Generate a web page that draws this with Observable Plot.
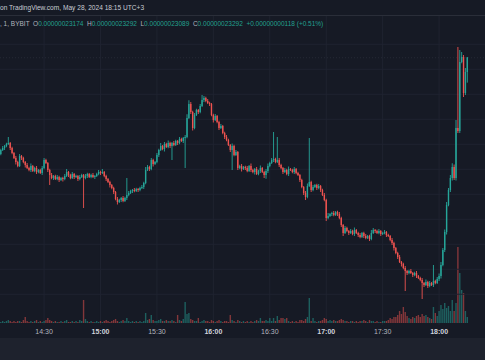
<!DOCTYPE html>
<html><head><meta charset="utf-8">
<script src="https://cdn.jsdelivr.net/npm/d3@7"></script>
<script src="https://cdn.jsdelivr.net/npm/@observablehq/plot@0.6"></script>
<style>
html,body{margin:0;padding:0;background:#161a25;width:485px;height:360px;overflow:hidden;}
#wrap{position:relative;width:485px;height:360px;font-family:"Liberation Sans",Arial,sans-serif;}
#wrap svg{position:absolute;left:0;top:0;}
#band{position:absolute;left:0;top:338px;width:485px;height:22px;background:#1e222d;}
#sep{position:absolute;left:0;top:15px;width:485px;height:1px;background:#2a2e39;}
#header{position:absolute;left:0;top:4px;font-size:6.6px;line-height:8px;color:#c9ccd4;white-space:pre;z-index:5;}
#legend{position:absolute;left:0;top:20px;font-size:6.5px;line-height:8px;color:#b2b5be;white-space:pre;z-index:5;}
#legend .v{color:#22a08f;}
</style></head>
<body><div id="wrap">
<div id="band"></div>
<div id="sep"></div>
<div id="header"></div>
<div id="legend"></div>
</div>
<script>
// ---- data (prices in units of 1e-9) ----
const headerText = "on TradingView.com, May 28, 2024 18:15 UTC+3";
const symbolText = ", 1, BYBIT";
const ohlcLabels = ["O", "H", "L", "C"];
const ohlcValues = ["0.00000023174", "0.00000023292", "0.00000023089", "0.00000023292"];
const changeText = "+0.00000000118 (+0.51%)";
const startTime = "2024-05-28T14:07:00Z";
const firstOpen = 225.18;
const closes = [
225.5,225.66,225.82,225.98,226.06,225.66,225.26,224.86,224.54,224.22,
225.02,224.86,224.54,224.3,224.06,223.9,224.22,223.82,224.06,223.74,
223.9,223.66,224.06,224.7,224.46,223.9,223.5,223.26,223.42,223.18,
223.34,223.1,223.26,223.18,223.42,223.74,223.5,223.26,223.58,223.34,
223.42,223.18,223.34,223.5,223.26,223.42,223.58,223.34,223.5,223.34,
223.42,223.58,223.74,223.66,223.74,223.42,223.18,222.94,222.7,222.46,
222.14,221.58,221.34,221.5,221.66,221.42,221.66,221.9,222.06,222.22,
222.3,222.22,222.38,222.3,222.46,222.54,222.86,223.9,224.14,223.98,
224.7,224.38,224.54,225.1,225.5,225.82,225.58,225.98,225.74,226.06,
225.82,226.06,225.9,226.22,226.06,226.38,226.22,226.46,226.54,228.06,
229.18,228.54,227.26,228.3,228.7,228.54,229.02,229.5,229.66,229.42,
229.26,229.18,228.3,227.9,228.22,227.74,227.26,227.42,226.86,226.54,
226.3,225.9,225.5,225.82,225.1,225.34,224.06,224.22,223.98,224.14,
224.06,223.82,224.22,223.9,223.74,223.98,223.58,223.82,224.06,223.74,
223.5,223.82,224.22,224.46,224.7,224.78,224.54,224.7,224.3,224.06,
223.74,223.9,223.58,223.98,223.9,223.74,223.98,223.66,223.5,223.1,
222.54,222.06,221.74,222.62,222.94,222.3,222.54,222.7,222.46,222.62,
222.3,221.9,221.5,220.06,220.22,220.38,220.46,220.3,220.54,220.38,
220.06,219.5,218.86,219.26,219.02,218.86,219.02,218.78,219.1,218.86,
218.7,218.54,218.86,218.62,218.46,218.62,218.38,218.86,219.1,219.02,
218.86,219.02,218.78,218.86,218.94,218.7,218.62,218.3,218.06,217.66,
217.26,216.94,216.54,216.38,216.06,215.82,215.66,215.82,215.66,215.5,
215.66,215.42,215.26,215.1,214.86,214.7,214.94,214.62,214.86,214.7,
215.02,214.86,215.18,215.42,216.3,217.5,218.94,221.1,222.3,223.26,
224.14,223.26,227.26,227.02,232.54,232.94,230.06,231.74,232.92
];
const wickUp = [
0.1,0.16,0.08,0.1,0.48,0.08,0.1,0.08,0.16,0.1,
0.16,0.08,0.1,0.08,0.16,0.1,0.2,0.08,0.1,0.16,
0.08,0.1,0.16,0.16,0.1,0.08,0.1,0.16,0.08,0.1,
0.16,0.1,0.08,0.1,0.16,0.24,0.08,0.1,0.16,0.08,
0.1,0.08,0.16,0.1,0.08,0.16,0.1,0.08,0.1,0.16,
0.08,0.1,0.16,0.1,0.24,0.08,0.1,0.08,0.1,0.08,
0.1,0.08,0.16,0.1,0.08,0.16,0.1,1.36,0.16,0.1,
0.08,0.16,0.1,0.08,0.1,0.16,0.1,0.24,0.16,0.1,
0.16,0.1,0.08,0.16,0.1,0.24,0.08,0.16,0.1,0.2,
0.1,0.08,0.16,0.1,0.08,0.16,0.1,0.08,0.16,0.3,
0.3,0.16,0.1,0.16,0.1,0.08,0.16,0.4,0.16,0.1,
0.16,0.1,0.08,0.1,0.16,0.08,0.1,0.16,0.08,0.1,
0.16,0.1,0.08,0.2,0.1,0.16,0.08,0.1,0.16,0.08,
0.1,0.16,0.08,0.2,0.1,0.08,0.16,0.1,0.2,0.08,
0.1,0.16,0.2,0.1,0.16,2.16,0.1,1.84,0.16,0.1,
0.08,0.16,0.1,0.2,0.08,0.1,0.16,0.08,0.1,0.08,
0.1,0.08,0.16,0.2,3.52,0.1,0.16,0.08,0.1,0.16,
0.08,0.1,0.16,0.1,0.24,0.08,0.1,0.16,0.08,0.1,
0.16,0.1,0.08,0.16,0.1,0.08,0.16,0.1,0.2,0.08,
0.1,0.16,0.08,0.1,0.16,0.08,0.1,0.24,0.16,0.08,
0.1,0.16,0.08,0.1,0.16,0.08,0.1,0.08,0.16,0.1,
0.08,0.1,0.16,0.08,0.1,0.16,0.08,0.1,0.16,0.08,
0.1,0.16,0.08,0.1,0.16,0.08,0.2,0.1,0.16,0.08,
1.28,0.1,0.16,0.2,0.24,0.16,0.2,0.24,0.16,0.24,
0.3,0.2,0.64,6.48,0.96,0.4,0.16,0.32,0
];
const wickDown = [
0.1,0.08,0.16,0.1,0.08,0.16,0.1,0.08,0.2,0.1,
0.08,0.16,0.1,0.2,0.08,0.1,0.16,0.08,0.1,0.16,
0.1,0.08,0.16,0.1,0.08,0.16,0.8,0.1,0.16,0.08,
0.1,0.16,0.08,0.2,0.1,0.08,0.16,0.1,0.08,0.16,
0.08,0.16,0.1,0.08,2.4,0.1,0.16,0.08,0.1,0.08,
0.16,0.08,0.1,0.16,0.08,0.1,0.16,0.08,0.2,0.1,
0.16,0.1,0.2,0.08,0.16,0.1,0.08,0.16,0.1,0.08,
0.16,0.1,0.08,0.16,0.1,0.08,0.16,0.1,0.08,0.16,
0.1,0.2,0.08,0.1,0.16,0.08,0.1,0.2,0.08,0.1,
0.16,1.12,0.1,0.08,0.16,0.1,0.08,0.16,2.4,0.1,
0.08,0.16,0.2,0.1,0.08,0.16,0.1,0.08,0.16,0.1,
0.08,0.16,0.1,0.2,0.08,0.1,0.16,0.08,0.1,0.16,
0.1,0.08,0.16,1.6,0.1,0.08,0.16,0.1,0.2,0.08,
0.16,0.1,0.08,0.16,0.1,0.2,0.08,0.1,0.16,0.08,
0.24,0.3,0.16,0.1,0.08,0.16,0.1,0.08,0.16,0.1,
0.16,0.08,0.1,0.16,0.08,0.1,0.16,0.1,0.08,0.16,
0.1,0.16,0.24,0.1,0.08,0.16,0.1,0.08,0.16,0.1,
0.16,0.08,0.1,0.24,0.1,0.08,0.16,0.1,0.08,0.16,
0.1,0.16,0.24,0.08,0.1,0.16,0.08,0.1,0.16,0.08,
0.16,0.1,0.08,0.16,0.1,0.08,0.16,0.1,0.08,0.16,
0.08,0.1,0.16,0.08,0.1,0.16,0.08,0.1,0.16,0.2,
0.1,0.16,0.08,0.2,0.1,1.6,0.16,0.1,0.08,0.16,
0.1,0.16,0.08,0.1,1.28,0.16,0.08,0.16,0.1,0.08,
0.16,0.1,0.08,0.16,0.2,0.1,0.16,0.2,0.1,0.16,
0.2,0.16,0.2,0.16,0.16,0.1,0.32,0.16,0.85
];
const volumes = [
1,2,1,2,3,2,1,2,1,2,
2,1,3,6,2,1,2,1,2,3,
1,2,1,2,3,5,3,2,1,2,
1,1,2,1,2,3,1,1,2,1,
2,1,3,2,23,4,2,1,2,1,
1,2,1,2,1,2,3,2,1,2,
3,4,2,1,2,3,2,5,2,1,
2,1,2,1,2,1,2,10,3,4,
8,3,2,2,3,4,2,2,3,2,
2,3,2,1,8,3,2,4,21,9,
10,4,3,2,2,5,1,2,3,2,
2,1,3,2,1,2,3,2,1,2,
2,1,8,3,2,1,3,2,1,2,
1,2,1,2,1,2,3,2,5,2,
2,3,2,5,2,5,2,7,3,5,
5,4,5,2,1,2,1,2,1,3,
3,2,4,6,25,2,5,2,1,2,
2,3,5,4,2,3,2,3,2,2,
3,4,3,2,2,1,2,2,1,2,
1,2,2,3,2,1,3,2,2,1,
2,1,1,2,2,2,3,5,4,6,
6,8,12,9,16,11,7,5,4,6,
5,7,8,6,9,7,8,6,5,4,
16,10,7,12,18,14,20,15,17,12,
23,12,20,76,50,33,30,12,6
];
const timeTicks = ["14:30","15:00","15:30","16:00","16:30","17:00","17:30","18:00"];
const gridPrices = [234,232,230,228,226,224,222,220,218,216,214];
const lastPrice = 232.92;

// ---- colours ----
const UP = "#26a69a", DOWN = "#ef5350";
const UPV = "rgba(38,166,154,0.5)", DOWNV = "rgba(239,83,80,0.5)";
const GRID = "#1f2330";

// ---- build table ----
const t0 = new Date(startTime);
const bars = closes.map((c, i) => {
  const o = i === 0 ? firstOpen : closes[i - 1];
  return {
    t: new Date(+t0 + i * 60000),
    o, c,
    h: Math.max(o, c) + wickUp[i],
    l: Math.min(o, c) - wickDown[i],
    v: volumes[i],
    up: c >= o
  };
});
const tEnd = bars[bars.length - 1].t;
const tickDates = timeTicks.map(s => new Date("2024-05-28T" + s + ":00Z"));
const hourTicks = tickDates.filter((d, i) => timeTicks[i].endsWith(":00"));
const halfTicks = tickDates.filter((d, i) => timeTicks[i].endsWith(":30"));
const xScale = {type: "utc", domain: [t0, tEnd], range: [0.3, 466.8], axis: null, label: null};

const volPlot = Plot.plot({
  width: 485, height: 360, marginTop: 16, marginBottom: 35, marginLeft: 0, marginRight: 0,
  style: {background: "transparent", fontFamily: "Liberation Sans, Arial, sans-serif", fontSize: "7px"},
  x: xScale,
  y: {domain: [0, 76], range: [323, 247], axis: null},
  color: {type: "identity"},
  marks: [
    Plot.ruleX(tickDates, {x: d => d, stroke: GRID, strokeWidth: 1}),
    Plot.ruleX(bars, {x: "t", y1: 0, y2: "v", stroke: d => d.up ? UPV : DOWNV, strokeWidth: 1.4}),
    Plot.axisX(halfTicks, {anchor: "bottom", tickSize: 0, tickPadding: 4, fontSize: 7, fill: "#b2b5be", label: null, tickFormat: d3.utcFormat("%H:%M")}),
    Plot.axisX(hourTicks, {anchor: "bottom", tickSize: 0, tickPadding: 4, fontSize: 7, fontWeight: "bold", fill: "#d1d4dc", label: null, tickFormat: d3.utcFormat("%H:%M")})
  ]
});

const candlePlot = Plot.plot({
  width: 485, height: 360, margin: 0,
  style: {background: "transparent"},
  x: xScale,
  y: {domain: [213.5, 234.3], range: [300, 40], axis: null},
  color: {type: "identity"},
  marks: [
    Plot.ruleY(gridPrices, {y: d => d, stroke: GRID, strokeWidth: 1}),
    Plot.ruleY([lastPrice], {y: d => d, stroke: "#262a36", strokeWidth: 1, strokeDasharray: "1,2"}),
    Plot.ruleX(bars, {x: "t", y1: "l", y2: "h", stroke: d => d.up ? UP : DOWN, strokeWidth: 0.9}),
    Plot.ruleX(bars, {x: "t", y1: "o", y2: "c", stroke: d => d.up ? UP : DOWN, strokeWidth: 1.4})
  ]
});

const wrap = document.getElementById("wrap");
wrap.appendChild(volPlot);
wrap.appendChild(candlePlot);

document.getElementById("header").textContent = headerText;
const leg = document.getElementById("legend");
let html = symbolText + "  ";
ohlcLabels.forEach((l, i) => { html += l + '<span class="v">' + ohlcValues[i] + '</span>  '; });
html += '<span class="v">' + changeText + '</span>';
leg.innerHTML = html;
</script>
</body></html>
